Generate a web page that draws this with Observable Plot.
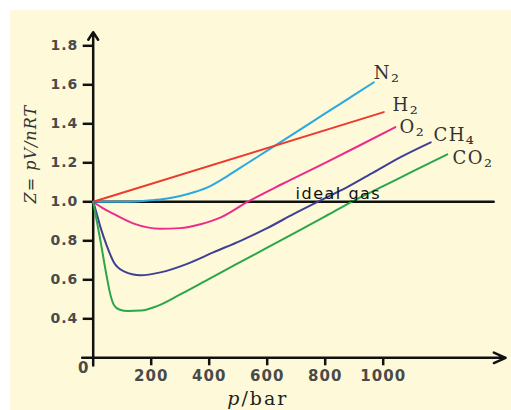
<!DOCTYPE html>
<html>
<head>
<meta charset="utf-8">
<script src="https://cdn.jsdelivr.net/npm/d3@7"></script>
<script src="https://cdn.jsdelivr.net/npm/@observablehq/plot@0.6"></script>
<style>
html, body { margin: 0; padding: 0; background: #ffffff; width: 511px; height: 410px; overflow: hidden; }
#chart { position: absolute; left: 10px; top: 10px; width: 501px; height: 400px; background: #fefad9; overflow: hidden; }
</style>
</head>
<body>
<div id="chart"></div>
<script>
// ---- data (pressure in bar, Z = pV/nRT) ----
const gases = ["N₂", "H₂", "O₂", "CH₄", "CO₂"];
const gasColors = ["#2aa8e0", "#ee3a2e", "#ec2b8c", "#3e3f95", "#2aa64b"];

const n2P = [0, 100, 200, 250, 300, 350, 400, 450, 500, 550, 600, 700, 800, 900, 968];
const n2Z = [1.0, 1.0, 1.008, 1.016, 1.03, 1.05, 1.078, 1.12, 1.168, 1.215, 1.262, 1.357, 1.453, 1.548, 1.613];

const h2P = [0, 1002];
const h2Z = [1.0, 1.46];

const o2P = [0, 30, 70, 140, 230, 300, 370, 440, 530, 650, 800, 920, 1042];
const o2Z = [1.0, 0.97, 0.938, 0.888, 0.862, 0.865, 0.885, 0.92, 0.998, 1.09, 1.2, 1.29, 1.383];

const ch4P = [0, 12, 25, 48, 71, 106, 163, 232, 324, 416, 508, 600, 692, 784, 876, 968, 1060, 1164];
const ch4Z = [1.0, 0.94, 0.87, 0.77, 0.69, 0.643, 0.623, 0.638, 0.682, 0.742, 0.8, 0.865, 0.938, 1.007, 1.075, 1.152, 1.229, 1.305];

const co2P = [0, 10, 25, 45, 60, 72, 90, 120, 165, 220, 300, 400, 500, 600, 700, 800, 891, 1000, 1100, 1221];
const co2Z = [1.0, 0.92, 0.8, 0.63, 0.52, 0.47, 0.448, 0.44, 0.442, 0.465, 0.525, 0.605, 0.685, 0.765, 0.845, 0.925, 1.0, 1.08, 1.155, 1.243];

const idealP = [0, 1381];
const idealZ = [1.0, 1.0];
const idealText = "ideal gas";
const idealLabelP = [698];
const idealLabelZ = [1.0];

const labelP = [967, 1032, 1056, 1173, 1239];
const labelZ = [1.632, 1.468, 1.355, 1.314, 1.196];

const xTicks = [200, 400, 600, 800, 1000];
const yTicks = [0.4, 0.6, 0.8, 1.0, 1.2, 1.4, 1.6, 1.8];
const originLabel = "0";
const yTitle = "Z= pV/nRT";
const xTitleVar = "p";
const xTitleUnit = "/bar";

// axis extents (data units)
const pAxisRange = [-38, 1422];
const zAxisLevel = 0.2;
const zAxisRange = [0.16, 1.87];

// ---- build tables ----
const seriesP = [n2P, h2P, o2P, ch4P, co2P];
const seriesZ = [n2Z, h2Z, o2Z, ch4Z, co2Z];
const rows = [];
gases.forEach((g, i) => seriesP[i].forEach((p, j) => rows.push({gas: g, p, z: seriesZ[i][j]})));
const idealRows = idealP.map((p, i) => ({p, z: idealZ[i]}));
const labelRows = gases.map((g, i) => ({gas: g, p: labelP[i], z: labelZ[i]}));
const xArrow = [{x1: pAxisRange[0], y1: zAxisLevel, x2: pAxisRange[1], y2: zAxisLevel}];
const yArrow = [{x1: 0, y1: zAxisRange[0], x2: 0, y2: zAxisRange[1]}];

const plot = Plot.plot({
  width: 501,
  height: 400,
  marginLeft: 82.7,
  marginRight: 6,
  marginTop: 15.8,
  marginBottom: 52.7,
  x: {domain: [0, 1421.7]},
  y: {domain: [0.2, 1.9]},
  color: {domain: gases, range: gasColors},
  style: {background: "transparent", fontFamily: "DejaVu Sans", overflow: "visible"},
  marks: [
    Plot.axisY({ticks: yTicks, tickSize: 10, tickPadding: 5, tickFormat: d3.format(".1f"), label: null,
      fontSize: 14, fontWeight: "bold", stroke: "#111", strokeWidth: 2.5, fill: "#4a4a4a"}),
    Plot.axisX({ticks: xTicks, tickSize: 8, tickPadding: 5, tickFormat: d3.format("d"), label: null,
      fontSize: 15, fontWeight: "bold", stroke: "#111", strokeWidth: 2.5, fill: "#4a4a4a"}),
    Plot.arrow(yArrow, {x1: "x1", y1: "y1", x2: "x2", y2: "y2", stroke: "#111", strokeWidth: 2.5, headAngle: 66, headLength: 5.4}),
    Plot.arrow(xArrow, {x1: "x1", y1: "y1", x2: "x2", y2: "y2", stroke: "#111", strokeWidth: 2.5, headAngle: 48, headLength: 7.7}),
    Plot.line(idealRows, {x: "p", y: "z", stroke: "#111", strokeWidth: 2.5}),
    Plot.line(rows, {x: "p", y: "z", z: "gas", stroke: "gas", strokeWidth: 2, curve: "monotone-x"}),
    Plot.text(labelRows, {x: "p", y: "z", text: "gas", fill: "#333", textAnchor: "start", lineAnchor: "bottom",
      fontFamily: "DejaVu Serif", fontSize: 18}),
    Plot.text([idealText], {x: idealLabelP, y: idealLabelZ, text: (d) => d, dy: -3, fill: "#111",
      textAnchor: "start", lineAnchor: "bottom", fontSize: 16}),
    Plot.text([originLabel], {frameAnchor: "bottom-left", text: (d) => d, dx: -10, dy: 5, lineAnchor: "top",
      textAnchor: "middle", fill: "#4a4a4a", fontWeight: "bold", fontSize: 15}),
    Plot.text([yTitle], {frameAnchor: "left", text: (d) => d, rotate: -90, dx: -62.7, dy: 11.4,
      fill: "#333", fontFamily: "DejaVu Serif", fontStyle: "italic", fontSize: 16}),
    Plot.text([xTitleVar], {frameAnchor: "bottom", text: (d) => d, dx: -57.9, dy: 47, textAnchor: "end",
      lineAnchor: "bottom", fill: "#222", fontFamily: "DejaVu Serif", fontStyle: "italic", fontSize: 19}),
    Plot.text([xTitleUnit], {frameAnchor: "bottom", text: (d) => d, dx: -57.9, dy: 47, textAnchor: "start",
      lineAnchor: "bottom", fill: "#222", fontFamily: "DejaVu Serif", fontSize: 19})
  ]
});

// letter spacing tweaks for the stretched look of the original
const sel = d3.select(plot);
sel.selectAll("g[aria-label='y-axis tick label'] text").attr("letter-spacing", "1px");
sel.selectAll("g[aria-label='x-axis tick label'] text").attr("letter-spacing", "1px");
const spacing = new Map([[yTitle, "1px"], [xTitleUnit, "2px"], [xTitleVar, "2px"], [idealText, "1.5px"]]);
gases.forEach((g) => spacing.set(g, "1.5px"));
sel.selectAll("g[aria-label='text'] text").each(function () {
  const t = this.textContent;
  const s = spacing.get(t);
  if (s) this.setAttribute("letter-spacing", s);
  // lower the subscript digit of the formula labels
  if (gases.includes(t)) {
    const base = t.slice(0, -1), sub = t.slice(-1);
    this.textContent = base;
    d3.select(this).append("tspan").attr("dy", "3").attr("font-size", "20px").text(sub);
  }
});

document.getElementById("chart").appendChild(plot);
</script>
</body>
</html>
